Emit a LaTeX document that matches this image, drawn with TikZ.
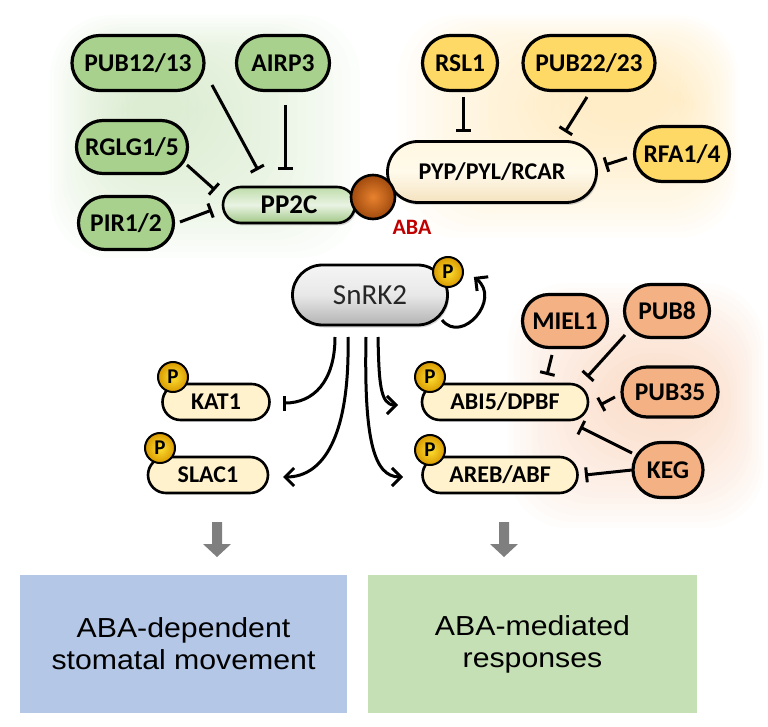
\documentclass[tikz,border=0pt]{standalone}
\usepackage{fontspec}
\setmainfont{Carlito}
\newfontfamily\arialf[FakeStretch=1.1]{Liberation Sans}
\usetikzlibrary{arrows.meta,shapes.misc,shadows}
\definecolor{gnode}{HTML}{A9D18E}
\definecolor{ynode}{HTML}{FFD966}
\definecolor{snode}{HTML}{F4B183}
\definecolor{cream}{HTML}{FFF2CC}
\definecolor{bluebox}{HTML}{B4C7E7}
\definecolor{greenbox}{HTML}{C5E0B4}
\definecolor{abared}{HTML}{C00000}
\definecolor{blobg}{HTML}{C5E0B4}
\definecolor{bloby}{HTML}{FFE0A0}
\definecolor{blobs}{HTML}{F8C8A8}
\definecolor{arrowgray}{HTML}{7F7F7F}
\definecolor{goldin}{HTML}{FFE033}
\definecolor{goldout}{HTML}{D99A00}
\definecolor{abain}{HTML}{E8822E}
\definecolor{abaout}{HTML}{A04A0E}
\tikzset{
  pill/.style={rounded rectangle, draw=black, line width=3.2pt, inner sep=0pt,
     font=\bfseries\fontsize{25.5pt}{28pt}\selectfont, text=black},
  gpill/.style={pill, fill=gnode},
  ypill/.style={pill, fill=ynode},
  spill/.style={pill, fill=snode},
  cpill/.style={pill, fill=cream, line width=2.6pt, minimum height=36pt,
     font=\bfseries\fontsize{24pt}{26pt}\selectfont},
  pbadge/.style={circle, draw=black, line width=2pt, inner sep=0pt, minimum size=30pt,
     inner color=goldin, outer color=goldout, font=\bfseries\fontsize{21pt}{21pt}\selectfont},
  softshadow/.style={drop shadow={shadow xshift=1.5pt, shadow yshift=-2.5pt, opacity=0.3}},
  inh/.style={line width=3pt, -{Bar[width=15pt]}},
  act/.style={line width=3pt, -{Straight Barb[length=9pt,width=18pt]}},
  outbox/.style={rectangle, inner sep=0pt, minimum height=138pt, align=center,
     font=\arialf\fontsize{27.5pt}{32pt}\selectfont},
}
\begin{document}
\begin{tikzpicture}[x=1pt,y=-1pt]
\useasboundingbox (0,0) rectangle (768,727);
% soft background blobs
\foreach \k in {0,...,19}{
  \fill[blobg, opacity=0.045, rounded corners=60pt] ({50+\k*4},{15+\k*3}) rectangle ({360-\k*9},{258-\k*6});
  \fill[bloby, opacity=0.045, rounded corners=60pt] ({398+\k*9},{15+\k*3}) rectangle ({738-\k*3},{238-\k*6});
  \fill[blobs, opacity=0.045, rounded corners=60pt] ({508+\k*6},{283+\k*5}) rectangle ({764-\k*3},{528-\k*6});
}
% top: PP2C group
\node[gpill, minimum width=132pt, minimum height=55pt] (pub1213) at (138,63) {PUB12/13};
\node[gpill, minimum width=93pt, minimum height=55pt] (airp3) at (283,63) {AIRP3};
\node[gpill, minimum width=111pt, minimum height=53pt] (rglg) at (132,147) {RGLG1/5};
\node[gpill, minimum width=95pt, minimum height=53pt] (pir) at (126,223) {PIR1/2};
\node[pill, minimum width=132pt, minimum height=36pt, line width=2.6pt,
      top color=gnode!75, bottom color=gnode!95!black, middle color=gnode!25,
      softshadow, font=\bfseries\fontsize{27pt}{28pt}\selectfont] (pp2c) at (289,205) {PP2C};
% receptor group
\node[pill, minimum width=209pt, minimum height=61pt, line width=2.8pt,
      top color=cream!60, bottom color=cream!80!brown!80, middle color=cream!40,
      softshadow, font=\bfseries\fontsize{24pt}{26pt}\selectfont] (pyp) at (492,172) {PYP/PYL/RCAR};
\node[circle, draw=black, line width=2.6pt, minimum size=44pt, inner sep=0pt,
      inner color=abain, outer color=abaout] (aba) at (373,197) {};
\node[text=abared, font=\bfseries\fontsize{22pt}{22pt}\selectfont] (abatxt) at (412,227) {ABA};
\node[ypill, minimum width=75pt, minimum height=55pt] (rsl1) at (460,63) {RSL1};
\node[ypill, minimum width=132pt, minimum height=55pt] (pub2223) at (589,63) {PUB22/23};
\node[ypill, minimum width=95pt, minimum height=55pt] (rfa) at (682,154) {RFA1/4};
% inhibitions on top
\draw[inh] ([shift={(74,22)}]pub1213.center) -- ([shift={(-31,-35)}]pp2c.center);
\draw[inh] ([shift={(2,42)}]airp3.center) -- ([shift={(-4,-35)}]pp2c.center);
\draw[inh] ([shift={(55,18)}]rglg.center) -- ([shift={(-74,-15)}]pp2c.center);
\draw[inh] ([shift={(54,-1)}]pir.center) -- ([shift={(-77,5)}]pp2c.center);
\draw[inh] ([shift={(3,34)}]rsl1.center) -- ([shift={(-29,-40)}]pyp.center);
\draw[inh] ([shift={(-2,34)}]pub2223.center) -- ([shift={(73,-40)}]pyp.center);
\draw[inh] ([shift={(-55,4)}]rfa.center) -- ([shift={(113,-7)}]pyp.center);
% SnRK2
\node[pill, minimum width=155pt, minimum height=60pt, line width=2.8pt,
      top color=gray!8, bottom color=gray!60, middle color=gray!18,
      softshadow, font=\fontsize{29pt}{30pt}\selectfont, text=black!85] (snrk) at (370,295) {SnRK2};
\node[pbadge] (psnrk) at (448,272) {P};
% targets
\node[cpill, minimum width=107pt] (kat1) at (216,402) {KAT1};
\node[pbadge] (pkat1) at (173,377) {P};
\node[cpill, minimum width=120pt] (slac1) at (208,475) {SLAC1};
\node[pbadge] (pslac1) at (160,448) {P};
\node[cpill, minimum width=166pt] (abi5) at (505,402) {ABI5/DPBF};
\node[pbadge] (pabi5) at (430,377) {P};
\node[cpill, minimum width=155pt] (areb) at (500,475) {AREB/ABF};
\node[pbadge] (pareb) at (430,450) {P};
% E3 ligases on the right
\node[spill, minimum width=85pt, minimum height=53pt] (miel1) at (565,321) {MIEL1};
\node[spill, minimum width=85pt, minimum height=53pt] (pub8) at (667,311) {PUB8};
\node[spill, minimum width=96pt, minimum height=50pt] (pub35) at (670,392) {PUB35};
\node[spill, minimum width=70pt, minimum height=55pt] (keg) at (668,470) {KEG};
% SnRK2 connectors
\draw[act] ([shift={(72,25)}]snrk.center) .. controls +(20,25) and +(28,22) .. ([shift={(25,-18)}]snrk.east);
\draw[inh] ([shift={(-35,42)}]snrk.center) .. controls +(0,45) and +(30,0) .. ([shift={(67,1)}]kat1.center);
\draw[act] ([shift={(-22,42)}]snrk.center) .. controls +(2,100) and +(40,0) .. ([shift={(75,2)}]slac1.center);
\draw[act] ([shift={(-4,42)}]snrk.center) .. controls +(-2,100) and +(-30,0) .. ([shift={(-97,2)}]areb.center);
\draw[act] ([shift={(8,42)}]snrk.center) .. controls +(1,45) and +(-18,0) .. ([shift={(-107,3)}]abi5.center);
% inhibitions on the right
\draw[inh] ([shift={(-13,34)}]miel1.center) -- ([shift={(42,-27)}]abi5.center);
\draw[inh] ([shift={(-42,24)}]pub8.center) -- ([shift={(82,-25)}]abi5.center);
\draw[inh] ([shift={(-55,5)}]pub35.center) -- ([shift={(95,3)}]abi5.center);
\draw[inh] ([shift={(-36,-17)}]keg.center) -- ([shift={(75,25)}]abi5.center);
\draw[inh] ([shift={(-36,0)}]keg.center) -- ([shift={(85,0)}]areb.center);
% grey block arrows
\fill[arrowgray] (212,522) -- (222,522) -- (222,544) -- (231,544) -- (217,557) -- (203,544) -- (212,544) -- cycle;
\fill[arrowgray] (499,522) -- (509,522) -- (509,544) -- (518,544) -- (504,557) -- (490,544) -- (499,544) -- cycle;
% outcome boxes
\node[outbox, fill=bluebox, minimum width=327pt] (mov) at (183.5,644) {ABA-dependent\\stomatal movement};
\node[outbox, fill=greenbox, minimum width=329pt] (resp) at (532.5,644) {ABA-mediated\\responses};
\end{tikzpicture}
\end{document}
